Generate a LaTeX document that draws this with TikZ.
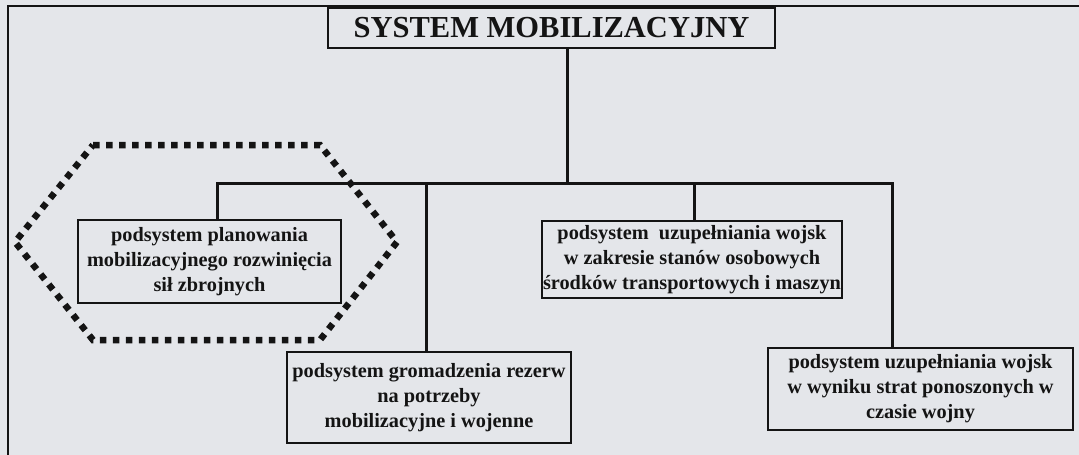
\documentclass[tikz,border=0pt]{standalone}
\usepackage{fontspec}
\setmainfont{Liberation Serif}
\definecolor{paper}{RGB}{228,230,234}
\definecolor{ink}{RGB}{20,20,20}
\tikzset{
  box/.style={draw=ink, line width=1.4pt, inner sep=0pt, align=center,
    font=\bfseries\fontsize{20.3}{25}\selectfont, text=ink},
  link/.style={draw=ink, line width=3pt},
  frame/.style={draw=ink, line width=2pt},
  dotted hex/.style={draw=ink, line width=6.5pt, dash pattern=on 6.5pt off 6.5pt}
}
\begin{document}
\begin{tikzpicture}[x=1pt,y=-1pt]
  \fill[paper] (0,0) rectangle (1079,455);
  \useasboundingbox (0,0) rectangle (1079,455);
  % page frame
  \draw[frame] (8,455) -- (8,6) -- (1079,6);
  % dotted hexagon round the planning subsystem
  \draw[dotted hex] (93,145) -- (320,145) -- (397,242) -- (320,340) -- (93,340) -- (15,242) -- cycle;
  % title
  \node[box, minimum width=447pt, minimum height=40pt,
        font=\bfseries\fontsize{30.5}{32}\selectfont] (title) at (551.5,28) {SYSTEM MOBILIZACYJNY};
  % subsystems
  \node[box, minimum width=263pt, minimum height=83pt] (plan) at (209.5,261.5)
    {podsystem planowania\\mobilizacyjnego rozwinięcia\\sił zbrojnych};
  \node[box, minimum width=284pt, minimum height=91pt] (rez) at (429,397.5)
    {podsystem gromadzenia rezerw\\na potrzeby\\mobilizacyjne i wojenne};
  \node[box, minimum width=300pt, minimum height=77pt] (stan) at (692,259.5)
    {podsystem\ \ uzupełniania wojsk\\w zakresie stanów osobowych\\środków transportowych i maszyn};
  \node[box, minimum width=305pt, minimum height=82pt] (strat) at (920.5,389)
    {podsystem uzupełniania wojsk\\w wyniku strat ponoszonych w\\czasie wojny};
  % bus junctions
  \coordinate (jt) at (567,183);
  \coordinate (j1) at (217,183);
  \coordinate (j2) at (426,183);
  \coordinate (j3) at (694,183);
  \coordinate (j4) at (892,183);
  \draw[link] (jt |- title.south) -- (jt);
  \draw[link] (j1 |- plan.north) -- (j1) -- (j4) -- (j4 |- strat.north);
  \draw[link] (j2) -- (j2 |- rez.north);
  \draw[link] (j3) -- (j3 |- stan.north);
\end{tikzpicture}
\end{document}
